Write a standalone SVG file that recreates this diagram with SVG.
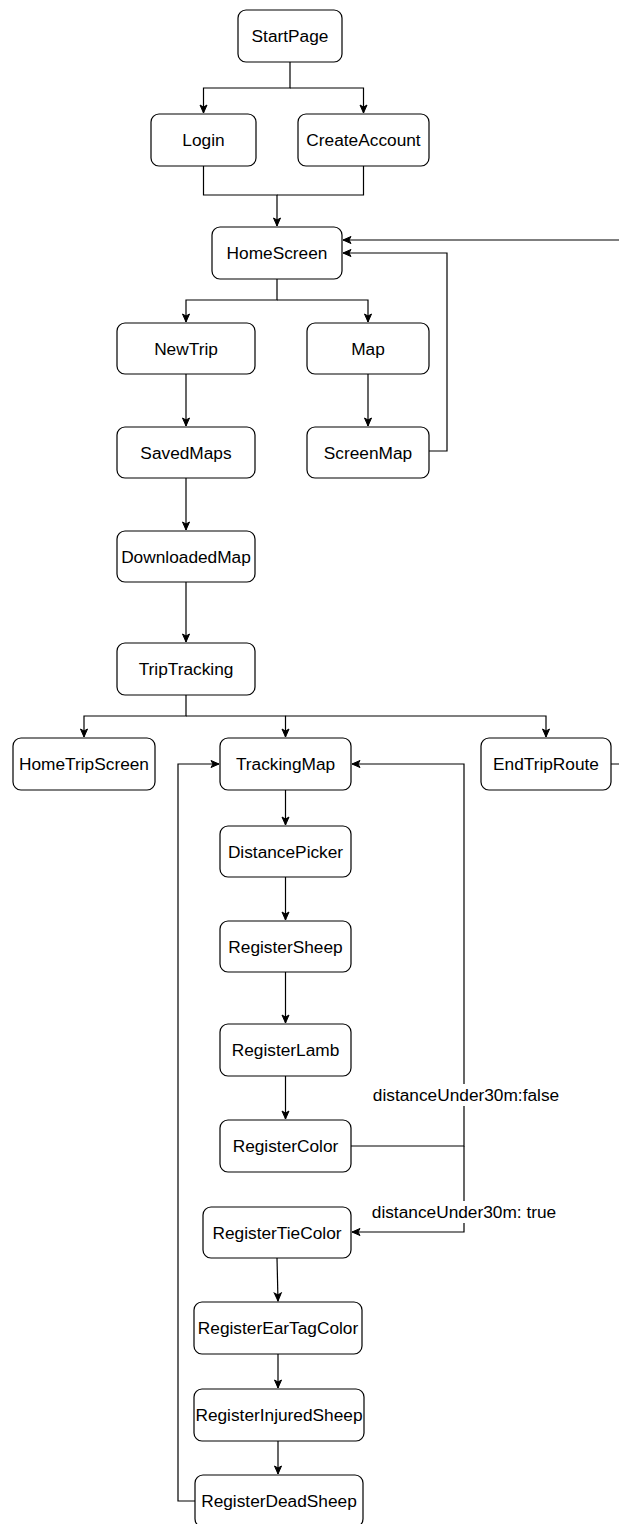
<svg xmlns="http://www.w3.org/2000/svg" width="619" height="1524" viewBox="0 0 619 1524">
<style>
.n rect{fill:#fff;stroke:#000;stroke-width:1.2}
.n text,.lbl{font-family:"Liberation Sans",Arial,sans-serif;font-size:17.3px;fill:#000;text-anchor:middle}
.e path{fill:none;stroke:#000;stroke-width:1.2}
.lblbg{fill:#fff}
</style>
<defs>
<marker id="a" markerUnits="userSpaceOnUse" markerWidth="10" markerHeight="10" viewBox="0 0 10 10" refX="9" refY="5" orient="auto">
<path d="M1,1.5 L9,5 L1,8.5 L3,5 Z" fill="#000" stroke="#000" stroke-width="1"/>
</marker>
</defs>
<rect width="619" height="1524" fill="#fff"/>
<g id="connectors" class="e">
<path d="M290,62 V88 H203.5 V113" marker-end="url(#a)"/>
<path d="M290,88 H363.5 V113" marker-end="url(#a)"/>
<path d="M203.5,166 V195 H277 V226" marker-end="url(#a)"/>
<path d="M363.5,166 V195 H277"/>
<path d="M611,764 H630 V240 H343" marker-end="url(#a)"/>
<path d="M429,451 H447 V253 H343" marker-end="url(#a)"/>
<path d="M277,279 V300 H186 V322" marker-end="url(#a)"/>
<path d="M277,300 H368 V322" marker-end="url(#a)"/>
<path d="M186,374 V426" marker-end="url(#a)"/>
<path d="M368,374 V426" marker-end="url(#a)"/>
<path d="M186,478 V530" marker-end="url(#a)"/>
<path d="M186,582 V642" marker-end="url(#a)"/>
<path d="M186,695 V716 H84 V737" marker-end="url(#a)"/>
<path d="M186,716 H285.5 V737" marker-end="url(#a)"/>
<path d="M285.5,716 H546 V737" marker-end="url(#a)"/>
<path d="M285.5,790 V825" marker-end="url(#a)"/>
<path d="M285.5,877 V920" marker-end="url(#a)"/>
<path d="M285.5,972 V1023" marker-end="url(#a)"/>
<path d="M285.5,1076 V1119" marker-end="url(#a)"/>
<path d="M351,1146 H464 V764 H352" marker-end="url(#a)"/>
<path d="M464,1146 V1232 H352" marker-end="url(#a)"/>
<path d="M277,1258 L278,1301" marker-end="url(#a)"/>
<path d="M278,1354 V1388" marker-end="url(#a)"/>
<path d="M278,1441 V1474" marker-end="url(#a)"/>
<path d="M195,1501 H178 V764 H219" marker-end="url(#a)"/>
<rect class="lblbg" x="373" y="1084" width="188" height="22"/>
<text class="lbl" x="466" y="1101">distanceUnder30m:false</text>
<rect class="lblbg" x="371" y="1201" width="188" height="22"/>
<text class="lbl" x="464" y="1218">distanceUnder30m: true</text>
</g>
<g id="StartPage" class="n"><rect x="238" y="10" width="104" height="52" rx="8"/><text x="290" y="42">StartPage</text></g>
<g id="Login" class="n"><rect x="151" y="114" width="105" height="52" rx="8"/><text x="203.5" y="146">Login</text></g>
<g id="CreateAccount" class="n"><rect x="298" y="114" width="131" height="52" rx="8"/><text x="363.5" y="146">CreateAccount</text></g>
<g id="HomeScreen" class="n"><rect x="212" y="227" width="130" height="52" rx="8"/><text x="277" y="259">HomeScreen</text></g>
<g id="NewTrip" class="n"><rect x="117" y="323" width="138" height="51" rx="8"/><text x="186" y="355">NewTrip</text></g>
<g id="Map" class="n"><rect x="307" y="323" width="122" height="51" rx="8"/><text x="368" y="355">Map</text></g>
<g id="SavedMaps" class="n"><rect x="117" y="427" width="138" height="51" rx="8"/><text x="186" y="459">SavedMaps</text></g>
<g id="ScreenMap" class="n"><rect x="307" y="427" width="122" height="51" rx="8"/><text x="368" y="459">ScreenMap</text></g>
<g id="DownloadedMap" class="n"><rect x="117" y="531" width="138" height="51" rx="8"/><text x="186" y="563">DownloadedMap</text></g>
<g id="TripTracking" class="n"><rect x="117" y="643" width="138" height="52" rx="8"/><text x="186" y="675">TripTracking</text></g>
<g id="HomeTripScreen" class="n"><rect x="13" y="738" width="142" height="52" rx="8"/><text x="84" y="770">HomeTripScreen</text></g>
<g id="TrackingMap" class="n"><rect x="220" y="738" width="131" height="52" rx="8"/><text x="285.5" y="770">TrackingMap</text></g>
<g id="EndTripRoute" class="n"><rect x="481" y="738" width="130" height="52" rx="8"/><text x="546" y="770">EndTripRoute</text></g>
<g id="DistancePicker" class="n"><rect x="220" y="826" width="131" height="51" rx="8"/><text x="285.5" y="858">DistancePicker</text></g>
<g id="RegisterSheep" class="n"><rect x="220" y="921" width="131" height="51" rx="8"/><text x="285.5" y="953">RegisterSheep</text></g>
<g id="RegisterLamb" class="n"><rect x="220" y="1024" width="131" height="52" rx="8"/><text x="285.5" y="1056">RegisterLamb</text></g>
<g id="RegisterColor" class="n"><rect x="220" y="1120" width="131" height="52" rx="8"/><text x="285.5" y="1152">RegisterColor</text></g>
<g id="RegisterTieColor" class="n"><rect x="203" y="1207" width="148" height="51" rx="8"/><text x="277" y="1239">RegisterTieColor</text></g>
<g id="RegisterEarTagColor" class="n"><rect x="194" y="1302" width="168" height="52" rx="8"/><text x="278" y="1334">RegisterEarTagColor</text></g>
<g id="RegisterInjuredSheep" class="n"><rect x="194" y="1389" width="170" height="52" rx="8"/><text x="279" y="1421">RegisterInjuredSheep</text></g>
<g id="RegisterDeadSheep" class="n"><rect x="195" y="1475" width="168" height="52" rx="8"/><text x="279" y="1507">RegisterDeadSheep</text></g>
</svg>
